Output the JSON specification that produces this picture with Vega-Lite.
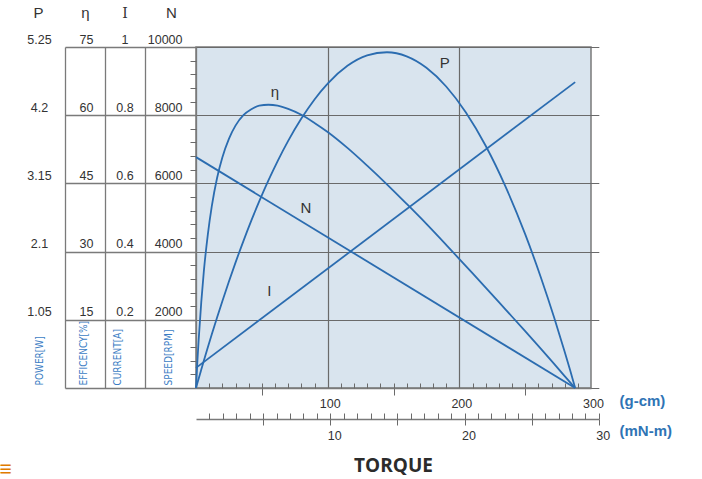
{
  "$schema": "https://vega.github.io/schema/vega-lite/v6.json",
  "width": 395,
  "height": 341,
  "autosize": {"type": "none"},
  "padding": {"left": 196, "top": 47, "right": 111, "bottom": 91},
  "background": "white",
  "config": {
    "view": {"fill": "#d9e4ee", "stroke": "#7a7a7a", "strokeWidth": 1.5},
    "axis": {
      "labelFont": "Liberation Sans", "labelFontSize": 12.5, "labelColor": "#333333",
      "labelOverlap": false, "labelFlush": false, "labelBound": false,
      "domainColor": "#7a7a7a", "domainWidth": 1.3,
      "tickColor": "#6a6a6a", "tickWidth": 1,
      "gridColor": "#6a6a6a", "gridWidth": 1.2, "gridOpacity": 1,
      "titleFont": "Liberation Sans"
    }
  },
  "datasets": {
    "curves": [
      {"torque": 0, "power": 0, "efficiency": 0},
      {"torque": 1, "power": 0.072, "efficiency": 5.6},
      {"torque": 2, "power": 0.143, "efficiency": 10.5},
      {"torque": 4, "power": 0.283, "efficiency": 18.9},
      {"torque": 6, "power": 0.422, "efficiency": 25.8},
      {"torque": 9, "power": 0.626, "efficiency": 33.8},
      {"torque": 12, "power": 0.826, "efficiency": 40.0},
      {"torque": 16, "power": 1.085, "efficiency": 46.2},
      {"torque": 20, "power": 1.336, "efficiency": 50.7},
      {"torque": 25, "power": 1.639, "efficiency": 54.8},
      {"torque": 30, "power": 1.930, "efficiency": 57.7},
      {"torque": 36, "power": 2.262, "efficiency": 60.0},
      {"torque": 42, "power": 2.576, "efficiency": 61.3},
      {"torque": 48, "power": 2.872, "efficiency": 62.1},
      {"torque": 55, "power": 3.195, "efficiency": 62.3},
      {"torque": 62, "power": 3.493, "efficiency": 62.1},
      {"torque": 70, "power": 3.804, "efficiency": 61.4},
      {"torque": 80, "power": 4.148, "efficiency": 60.1},
      {"torque": 90, "power": 4.443, "efficiency": 58.3},
      {"torque": 100, "power": 4.687, "efficiency": 56.3},
      {"torque": 115, "power": 4.960, "efficiency": 52.8},
      {"torque": 130, "power": 5.121, "efficiency": 48.9},
      {"torque": 145, "power": 5.169, "efficiency": 44.8},
      {"torque": 160, "power": 5.106, "efficiency": 40.5},
      {"torque": 175, "power": 4.930, "efficiency": 36.1},
      {"torque": 190, "power": 4.642, "efficiency": 31.5},
      {"torque": 205, "power": 4.242, "efficiency": 26.8},
      {"torque": 220, "power": 3.730, "efficiency": 22.1},
      {"torque": 235, "power": 3.105, "efficiency": 17.3},
      {"torque": 250, "power": 2.368, "efficiency": 12.5},
      {"torque": 262, "power": 1.698, "efficiency": 8.6},
      {"torque": 272, "power": 1.085, "efficiency": 5.3},
      {"torque": 280, "power": 0.558, "efficiency": 2.6},
      {"torque": 284, "power": 0.283, "efficiency": 1.3},
      {"torque": 288, "power": 0, "efficiency": 0}
    ],
    "lines": [
      {"torque": 0, "torque_mNm": 0, "current": 0.059, "speed": 6770},
      {"torque": 288, "torque_mNm": 28.24, "current": 0.897, "speed": 0}
    ],
    "names": [
      {"name": "P", "torque": 189, "power": 5.0},
      {"name": "η", "torque": 60, "power": 4.56},
      {"name": "N", "torque": 83.5, "power": 2.77},
      {"name": "I", "torque": 55.7, "power": 1.5}
    ]
  },
  "resolve": {"scale": {"x": "independent", "y": "independent"}},
  "layer": [
    {
      "data": {"name": "curves"},
      "mark": {"type": "line", "color": "#2b6cb0", "strokeWidth": 1.8, "interpolate": "monotone"},
      "encoding": {
        "x": {
          "field": "torque", "type": "quantitative",
          "scale": {"domain": [0, 300], "nice": false, "zero": false},
          "axis": {
            "orient": "bottom", "values": [50, 100, 150, 200, 250, 300], "format": "d",
            "labelExpr": "datum.value % 100 === 0 ? datum.label : ''",
            "tickSize": 7,
            "tickOpacity": {"condition": {"test": "datum.value % 100 === 0", "value": 0}, "value": 1},
            "labelPadding": 2, "labelBaseline": "top", "labelOffset": 2,
            "grid": true,
            "gridOpacity": {"condition": {"test": "datum.value === 100 || datum.value === 200", "value": 1}, "value": 0},
            "domain": true,
            "title": "(g-cm)", "titleX": 423, "titleY": 17, "titleAlign": "left", "titleBaseline": "alphabetic",
            "titleAngle": 0, "titleColor": "#2f74b5", "titleFontSize": 15, "titleFontWeight": "bold"
          }
        },
        "y": {
          "field": "power", "type": "quantitative",
          "scale": {"domain": [0, 5.25], "nice": false, "zero": false},
          "axis": {
            "orient": "left", "offset": 131, "values": [1.05, 2.1, 3.15, 4.2, 5.25],
            "labelExpr": "'' + datum.value",
            "ticks": false, "tickSize": 0, "labelAlign": "center", "labelPadding": 26,
            "labelBaseline": "alphabetic", "labelOffset": -4,
            "grid": false, "domain": true,
            "title": "POWER[W]", "titleAngle": 270, "titleX": -26, "titleY": 338, "titleAlign": "left",
            "titleBaseline": "middle", "titleColor": "#3b7dc4", "titleFont": "DejaVu Sans Condensed, Liberation Sans",
            "titleFontSize": 10, "titleFontWeight": "normal"
          }
        }
      }
    },
    {
      "data": {"name": "curves"},
      "mark": {"type": "line", "color": "#2b6cb0", "strokeWidth": 1.8, "interpolate": "monotone"},
      "encoding": {
        "x": {
          "field": "torque", "type": "quantitative",
          "scale": {"domain": [0, 300], "nice": false, "zero": false},
          "axis": {
            "orient": "top", "offset": -341,
            "values": [10, 20, 30, 40, 50, 60, 70, 80, 90, 110, 120, 130, 140, 150, 160, 170, 180, 190, 210, 220, 230, 240, 250, 260, 270, 280, 290],
            "tickSize": 5, "labels": false, "domain": false, "grid": false,
            "title": "≡", "titleX": -197, "titleY": 87, "titleAlign": "left", "titleBaseline": "alphabetic",
            "titleAngle": 0, "titleColor": "#e07b00", "titleFontSize": 21, "titleFontWeight": "bold"
          }
        },
        "y": {
          "field": "efficiency", "type": "quantitative",
          "scale": {"domain": [0, 75], "nice": false, "zero": false},
          "axis": {
            "orient": "left", "offset": 91, "values": [15, 30, 45, 60, 75],
            "labelExpr": "'' + datum.value",
            "ticks": false, "tickSize": 0, "labelAlign": "center", "labelPadding": 19,
            "labelBaseline": "alphabetic", "labelOffset": -4,
            "grid": false, "domain": true,
            "title": "EFFICENCY[%]", "titleAngle": 270, "titleX": -22, "titleY": 338, "titleAlign": "left",
            "titleBaseline": "middle", "titleColor": "#3b7dc4", "titleFont": "DejaVu Sans Condensed, Liberation Sans",
            "titleFontSize": 10, "titleFontWeight": "normal"
          }
        }
      }
    },
    {
      "data": {"name": "lines"},
      "mark": {"type": "line", "color": "#2b6cb0", "strokeWidth": 1.8},
      "encoding": {
        "x": {
          "field": "torque_mNm", "type": "quantitative",
          "scale": {"domain": [0, 30], "range": [0, 402.8], "nice": false, "zero": false},
          "axis": {
            "orient": "bottom", "offset": 31, "values": [5, 10, 15, 20, 25, 30], "format": "d",
            "labelExpr": "datum.value % 10 === 0 ? datum.label : ''",
            "tickSize": 6, "labelPadding": 4, "labelBaseline": "top", "labelOffset": 4,
            "domain": true, "grid": false,
            "title": "(mN-m)", "titleX": 423, "titleY": 16, "titleAlign": "left", "titleBaseline": "alphabetic",
            "titleAngle": 0, "titleColor": "#2f74b5", "titleFontSize": 15, "titleFontWeight": "bold"
          }
        },
        "y": {
          "field": "current", "type": "quantitative",
          "scale": {"domain": [0, 1], "nice": false, "zero": false},
          "axis": {
            "orient": "left", "offset": 51, "values": [0.2, 0.4, 0.6, 0.8, 1],
            "labelExpr": "'' + datum.value",
            "ticks": false, "tickSize": 0, "labelAlign": "center", "labelPadding": 20.5,
            "labelBaseline": "alphabetic", "labelOffset": -4,
            "grid": false, "domain": true,
            "title": "CURRENT[A]", "titleAngle": 270, "titleX": -28, "titleY": 338, "titleAlign": "left",
            "titleBaseline": "middle", "titleColor": "#3b7dc4", "titleFont": "DejaVu Sans Condensed, Liberation Sans",
            "titleFontSize": 10, "titleFontWeight": "normal"
          }
        }
      }
    },
    {
      "data": {"name": "lines"},
      "mark": {"type": "line", "color": "#2b6cb0", "strokeWidth": 1.8},
      "encoding": {
        "x": {
          "field": "torque_mNm", "type": "quantitative",
          "scale": {"domain": [0, 30], "range": [0, 402.8], "nice": false, "zero": false},
          "axis": {
            "orient": "top", "offset": -372,
            "values": [1, 2, 3, 4, 5, 6, 7, 8, 9, 10, 11, 12, 13, 14, 15, 16, 17, 18, 19, 20, 21, 22, 23, 24, 25, 26, 27, 28, 29, 30],
            "tickSize": 6, "labels": false, "domain": false, "grid": false,
            "title": "TORQUE", "titleX": 197, "titleY": 52, "titleAlign": "center", "titleBaseline": "alphabetic",
            "titleAngle": 0, "titleColor": "#2b2b2b", "titleFont": "Open Sans", "titleFontSize": 19, "titleFontWeight": "bold"
          }
        },
        "y": {
          "field": "speed", "type": "quantitative",
          "scale": {"domain": [0, 10000], "nice": false, "zero": false},
          "axis": {
            "orient": "left", "offset": 0, "values": [0, 2000, 4000, 6000, 8000, 10000], "format": "d",
            "labelExpr": "datum.value === 0 ? '' : datum.label",
            "tickSize": 131, "tickColor": "#7a7a7a", "tickWidth": 1.3,
            "labelAlign": "right", "labelPadding": -117,
            "labelBaseline": "alphabetic", "labelOffset": -4,
            "grid": true, "domain": true,
            "title": "SPEED[RPM]", "titleAngle": 270, "titleX": -28, "titleY": 338, "titleAlign": "left",
            "titleBaseline": "middle", "titleColor": "#3b7dc4", "titleFont": "DejaVu Sans Condensed, Liberation Sans",
            "titleFontSize": 10, "titleFontWeight": "normal"
          }
        }
      }
    },
    {
      "data": {"name": "lines"},
      "mark": {"type": "line", "strokeOpacity": 0},
      "encoding": {
        "x": {
          "field": "torque_mNm", "type": "quantitative",
          "scale": {"domain": [0, 30], "range": [0, 402.8], "nice": false, "zero": false},
          "axis": {
            "orient": "bottom", "ticks": false, "labels": false, "domain": false, "grid": false,
            "title": "I", "titleX": -71.5, "titleY": -371, "titleAlign": "center", "titleBaseline": "alphabetic",
            "titleAngle": 0, "titleColor": "#333333", "titleFont": "DejaVu Serif", "titleFontSize": 14, "titleFontWeight": "normal"
          }
        },
        "y": {
          "field": "speed", "type": "quantitative",
          "scale": {"domain": [0, 10000], "nice": false, "zero": false},
          "axis": {
            "orient": "left", "offset": 0,
            "values": [400, 800, 1200, 1600, 2400, 2800, 3200, 3600, 4400, 4800, 5200, 5600, 6400, 6800, 7200, 7600, 8400, 8800, 9200, 9600],
            "tickSize": 6, "labels": false, "domain": false, "grid": false,
            "title": "N", "titleX": -25, "titleY": -30, "titleAlign": "center", "titleBaseline": "alphabetic",
            "titleAngle": 0, "titleColor": "#333333", "titleFont": "Liberation Sans", "titleFontSize": 15, "titleFontWeight": "normal"
          }
        }
      }
    },
    {
      "data": {"name": "names"},
      "mark": {"type": "text", "font": "Liberation Sans", "fontSize": 15, "color": "#333333"},
      "encoding": {
        "x": {
          "field": "torque", "type": "quantitative", "scale": {"domain": [0, 300], "nice": false, "zero": false},
          "axis": {
            "orient": "bottom", "ticks": false, "labels": false, "domain": false, "grid": false,
            "title": "P", "titleX": -158, "titleY": -371, "titleAlign": "center", "titleBaseline": "alphabetic",
            "titleAngle": 0, "titleColor": "#333333", "titleFont": "Liberation Sans", "titleFontSize": 15, "titleFontWeight": "normal"
          }
        },
        "y": {
          "field": "power", "type": "quantitative", "scale": {"domain": [0, 5.25], "nice": false, "zero": false},
          "axis": {
            "orient": "left", "offset": 0, "ticks": false, "labels": false, "domain": false, "grid": false,
            "title": "η", "titleX": -111, "titleY": -30, "titleAlign": "center", "titleBaseline": "alphabetic",
            "titleAngle": 0, "titleColor": "#333333", "titleFont": "Liberation Sans", "titleFontSize": 15, "titleFontWeight": "normal"
          }
        },
        "text": {"field": "name", "type": "nominal"}
      }
    }
  ]
}
